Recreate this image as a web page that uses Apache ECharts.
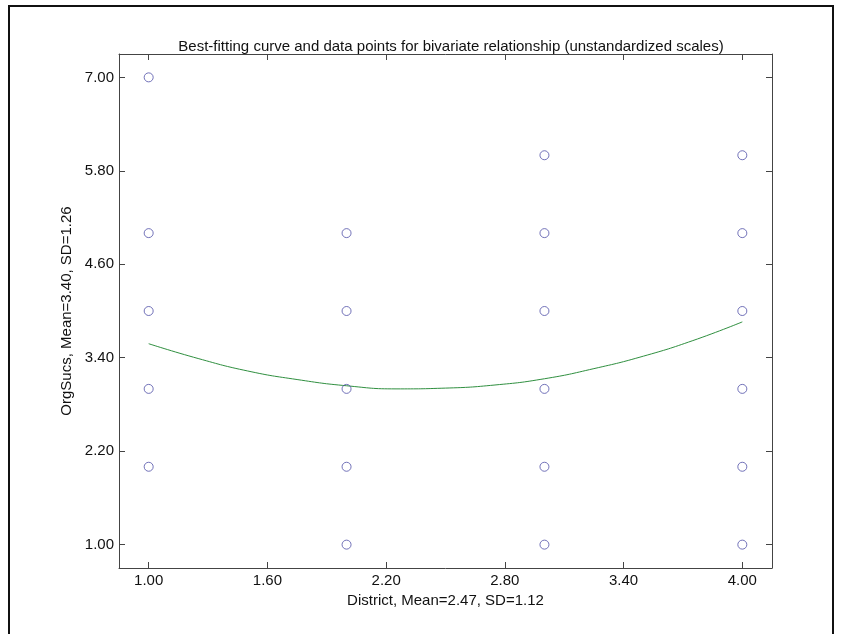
<!DOCTYPE html>
<html>
<head>
<meta charset="utf-8">
<script src="https://cdn.jsdelivr.net/npm/echarts@6/dist/echarts.min.js"></script>
<style>
  html, body { margin: 0; padding: 0; background: #fff; }
  #chart { width: 842px; height: 634px; }
</style>
</head>
<body>
<div id="chart"></div>
<script>
// Observed cases: District (x) against OrgSucs (y)
const districtValues = [1, 1, 1, 1, 1, 2, 2, 2, 2, 2, 3, 3, 3, 3, 3, 3, 4, 4, 4, 4, 4, 4];
const orgSucsValues  = [7, 5, 4, 3, 2, 5, 4, 3, 2, 1, 6, 5, 4, 3, 2, 1, 6, 5, 4, 3, 2, 1];

// Best-fitting quadratic curve, sampled along District
const curveX = [1.00, 1.25, 1.50, 1.75, 2.00, 2.25, 2.50, 2.75, 3.00, 3.25, 3.50, 3.75, 4.00];
const curveY = [3.58, 3.39, 3.23, 3.12, 3.04, 3.00, 3.01, 3.05, 3.13, 3.26, 3.42, 3.62, 3.86];

// Tick labels
const xTicks = [1.00, 1.60, 2.20, 2.80, 3.40, 4.00];
const yTicks = [1.00, 2.20, 3.40, 4.60, 5.80, 7.00];

const titleText = 'Best-fitting curve and data points for bivariate relationship (unstandardized scales)';
const xName = 'District, Mean=2.47, SD=1.12';
const yName = 'OrgSucs, Mean=3.40, SD=1.26';

const font = '"Liberation Sans", Arial, sans-serif';
const fontSize = 15;
const textColor = '#111';
const axisColor = '#444';

const chart = echarts.init(document.getElementById('chart'), null, { renderer: 'canvas' });

const points = districtValues.map((x, i) => [x, orgSucsValues[i]]);
const curve = curveX.map((x, i) => [x, curveY[i]]);

const textStyle = { fontFamily: font, fontSize: fontSize, color: textColor };

const frameAxis = {
  axisLine: { show: true, onZero: false, lineStyle: { color: axisColor, width: 1 } },
  axisTick: { show: true, inside: true, length: 6, lineStyle: { color: axisColor } },
  splitLine: { show: false }
};

chart.setOption({
  animation: false,
  backgroundColor: '#fff',
  title: {
    text: titleText,
    left: 446, top: 34, textAlign: 'center',
    textStyle: { ...textStyle, fontWeight: 'normal' }
  },
  graphic: [{
    type: 'rect',
    shape: { x: 9, y: 6, width: 824, height: 650 },
    style: { fill: 'none', stroke: '#111', lineWidth: 2 },
    silent: true
  }],
  grid: { left: 119, right: 70, top: 54, bottom: 66, containLabel: false },
  xAxis: [{
    type: 'value', position: 'bottom', min: 0.85, max: 4.15,
    name: xName, nameLocation: 'middle', nameGap: 22,
    nameTextStyle: textStyle,
    ...frameAxis,
    axisTick: { ...frameAxis.axisTick, customValues: xTicks },
    axisLabel: { customValues: xTicks, formatter: v => v.toFixed(2), margin: 5, ...textStyle }
  }, {
    type: 'value', position: 'top', min: 0.85, max: 4.15,
    ...frameAxis,
    axisTick: { ...frameAxis.axisTick, customValues: xTicks },
    axisLabel: { show: false }
  }],
  yAxis: [{
    type: 'value', position: 'left', min: 0.7, max: 7.3,
    name: yName, nameLocation: 'middle', nameGap: 42, nameRotate: 90,
    nameTextStyle: textStyle,
    ...frameAxis,
    axisTick: { ...frameAxis.axisTick, customValues: yTicks },
    axisLabel: { customValues: yTicks, formatter: v => v.toFixed(2), margin: 5, ...textStyle }
  }, {
    type: 'value', position: 'right', min: 0.7, max: 7.3,
    ...frameAxis,
    axisTick: { ...frameAxis.axisTick, customValues: yTicks },
    axisLabel: { show: false }
  }],
  series: [{
    type: 'line',
    data: curve,
    smooth: true,
    showSymbol: false,
    lineStyle: { color: '#2f8f3f', width: 1 },
    z: 2
  }, {
    type: 'scatter',
    data: points,
    symbol: 'circle',
    symbolSize: 9,
    itemStyle: { color: 'rgba(255,255,255,0)', borderColor: '#5050a8', borderWidth: 1 },
    z: 3
  }]
});
</script>
</body>
</html>
